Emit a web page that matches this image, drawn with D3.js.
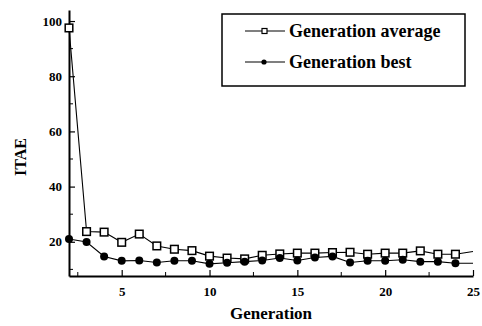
<!DOCTYPE html>
<html>
<head>
<meta charset="utf-8">
<script src="https://cdn.jsdelivr.net/npm/d3@7"></script>
<style>
  body { margin: 0; background: #fff; }
</style>
</head>
<body>
<div id="chart"></div>
<script>
// DATA
const generations = [2,3,4,5,6,7,8,9,10,11,12,13,14,15,16,17,18,19,20,21,22,23,24,25];
const avgValues = [97.5,23.7,23.5,19.8,22.8,18.5,17.3,16.8,14.8,14.1,13.8,15.1,15.6,15.9,15.9,16.1,16.2,15.5,15.9,15.9,16.7,15.5,15.5,16.5];
const bestValues = [21.0,19.9,14.7,13.1,13.2,12.5,13.1,13.1,12.0,12.4,12.8,13.2,14.1,13.2,14.3,14.7,12.5,13.1,13.1,13.5,12.8,12.8,12.2,12.2];
const xTicks = [5,10,15,20,25];
const xMinor = [2.5,7.5,12.5,17.5,22.5];
const yTicks = [20,40,60,80,100];
const yMinor = [10,30,50,70,90];
const legendLabels = ['Generation average','Generation best'];

const SERIF = '"Liberation Serif", "Times New Roman", serif';

document.addEventListener('DOMContentLoaded', function(){
  drawChart();
});

function drawChart(){
  const width = 482, height = 326;

  const svg = d3.select('#chart').append('svg')
                .attr('width', width)
                .attr('height', height)
                .attr('font-family', SERIF)
                .attr('font-weight', 'bold');

  // scales
  const x = d3.scaleLinear().domain([2, 25]).range([69, 473]);
  const y = d3.scaleLinear().domain([7.6, 104]).range([276, 10]);

  // axes, ticks inward
  const xAxis = svg.append('g')
    .attr('transform', `translate(0,${y(7.6)})`)
    .call(d3.axisBottom(x).tickValues(xTicks).tickSize(-6).tickPadding(11).tickSizeOuter(0));
  xAxis.append('g').selectAll('line').data(xMinor).enter().append('line')
    .attr('x1', d => x(d)).attr('x2', d => x(d))
    .attr('y1', 0).attr('y2', -4)
    .attr('stroke', '#000');

  const yAxis = svg.append('g')
    .attr('transform', `translate(${x(2)},0)`)
    .call(d3.axisLeft(y).tickValues(yTicks).tickSize(-6).tickPadding(7).tickSizeOuter(0));
  yAxis.append('g').selectAll('line').data(yMinor).enter().append('line')
    .attr('y1', d => y(d)).attr('y2', d => y(d))
    .attr('x1', 0).attr('x2', 4)
    .attr('stroke', '#000');

  [xAxis, yAxis].forEach(a => {
    a.attr('font-family', SERIF).attr('font-size', 13).attr('font-weight', 'bold');
    a.select('.domain').attr('stroke', '#000').attr('stroke-width', 2);
    a.selectAll('.tick line').attr('stroke', '#000').attr('stroke-width', 1.2);
    a.selectAll('.tick text').attr('fill', '#000');
  });

  // axis titles
  svg.append('text')
     .attr('x', 271).attr('y', 319)
     .attr('text-anchor', 'middle')
     .attr('font-size', 17)
     .text('Generation');
  svg.append('text')
     .attr('transform', 'translate(26,157) rotate(-90)')
     .attr('text-anchor', 'middle')
     .attr('font-size', 16)
     .text('ITAE');

  // lines
  const avgData = generations.map((g, i) => ({g: g, v: avgValues[i]}));
  const bestData = generations.map((g, i) => ({g: g, v: bestValues[i]}));
  const line = d3.line().x(d => x(d.g)).y(d => y(d.v));

  svg.append('path').datum(avgData)
     .attr('d', line).attr('fill', 'none').attr('stroke', '#000').attr('stroke-width', 1.1);
  svg.append('path').datum(bestData)
     .attr('d', line).attr('fill', 'none').attr('stroke', '#000').attr('stroke-width', 1.1);

  // markers (last generation has none)
  svg.append('g').selectAll('rect').data(avgData.slice(0, -1)).enter().append('rect')
     .attr('x', d => x(d.g) - 3.8).attr('y', d => y(d.v) - 3.8)
     .attr('width', 7.6).attr('height', 7.6)
     .attr('fill', '#fff').attr('stroke', '#000').attr('stroke-width', 1.5);
  svg.append('g').selectAll('circle').data(bestData.slice(0, -1)).enter().append('circle')
     .attr('cx', d => x(d.g)).attr('cy', d => y(d.v)).attr('r', 4)
     .attr('fill', '#000');

  // legend
  const legend = svg.append('g');
  legend.append('rect')
        .attr('x', 222).attr('y', 14).attr('width', 243).attr('height', 72)
        .attr('fill', '#fff').attr('stroke', '#000').attr('stroke-width', 1.5);
  legendLabels.forEach((lab, i) => {
    const ly = 31 + i * 31;
    legend.append('line').attr('x1', 245).attr('x2', 285).attr('y1', ly).attr('y2', ly)
          .attr('stroke', '#000').attr('stroke-width', 1.1);
    if (i === 0) {
      legend.append('rect').attr('x', 262).attr('y', ly - 2.5).attr('width', 5).attr('height', 5)
            .attr('fill', '#fff').attr('stroke', '#000').attr('stroke-width', 1.2);
    } else {
      legend.append('circle').attr('cx', 264).attr('cy', ly).attr('r', 2.6).attr('fill', '#000');
    }
    legend.append('text').attr('x', 289).attr('y', ly + 6)
          .attr('font-size', 18)
          .text(lab);
  });
}
</script>
</body>
</html>
